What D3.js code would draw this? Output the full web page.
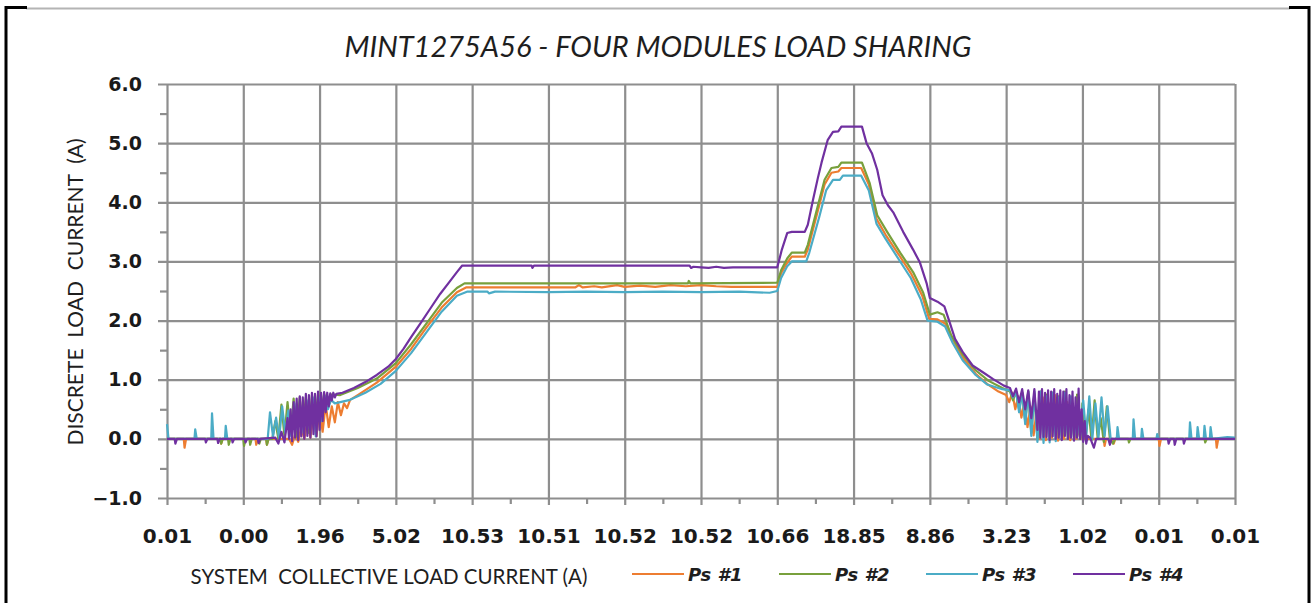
<!DOCTYPE html>
<html>
<head>
<meta charset="utf-8">
<script src="https://cdn.jsdelivr.net/npm/d3@7"></script>
<style>
  html, body { margin: 0; padding: 0; background: #fff; }
  svg { display: block; }
  text { fill: #1e1e1e; }
</style>
</head>
<body>
<div id="chart"></div>
<script>
var chartTitle = 'MINT1275A56 - FOUR MODULES LOAD SHARING';
var xTitle = 'SYSTEM\u00a0 COLLECTIVE LOAD CURRENT (A)';
var yTitle = 'DISCRETE\u00a0 LOAD\u00a0 CURRENT\u00a0 (A)';
var xLabels = ['0.01', '0.00', '1.96', '5.02', '10.53', '10.51', '10.52', '10.52', '10.66', '18.85', '8.86', '3.23', '1.02', '0.01', '0.01'];
var yTicks = [-1, 0, 1, 2, 3, 4, 5, 6];
var seriesNames = ['Ps #1', 'Ps #2', 'Ps #3', 'Ps #4'];
var seriesColors = ['#ED7D31', '#78A03C', '#4BACC6', '#7030A0'];

// points are [position along the x categories, load current]
var ps1 = [[0,0],[0.22,0],[0.23,-0.15],[0.25,0],[0.7,0],[0.71,-0.08],[0.73,0],[1.16,0],[1.17,-0.1],[1.19,0],[1.3,0],[1.31,-0.1],[1.33,0],[1.6,0],
  [1.64,-0.1],[1.68,0.08],[1.72,-0.05],[1.76,0.2],[1.8,0],[1.84,0.3],[1.88,0.02],[1.92,0.42],[1.96,0.05],[2,0.5],[2.04,0.12],[2.08,0.58],[2.12,0.2],
  [2.16,0.55],[2.2,0.28],[2.24,0.62],[2.28,0.4],[2.32,0.6],[2.36,0.52],[2.4,0.66],[2.5,0.74],[2.75,0.95],[3,1.22],[3.2,1.52],[3.4,1.88],[3.6,2.22],
  [3.8,2.48],[3.92,2.56],[5.35,2.56],[5.4,2.6],[5.45,2.56],[5.6,2.58],[5.7,2.56],[5.9,2.6],[6,2.57],[6.2,2.59],[6.4,2.57],[6.6,2.6],[6.8,2.58],[7,2.6],
  [7.2,2.58],[7.4,2.57],[8,2.57],[8.05,2.8],[8.13,2.98],[8.19,3.08],[8.36,3.08],[8.4,3.2],[8.52,3.8],[8.62,4.3],[8.71,4.5],[8.8,4.52],[8.84,4.58],
  [9.1,4.58],[9.2,4.3],[9.3,3.72],[9.42,3.45],[9.6,3.1],[9.76,2.78],[9.9,2.42],[9.99,2.03],[10.1,2.02],[10.2,1.95],[10.3,1.68],[10.43,1.38],[10.6,1.1],
  [10.75,0.93],[10.9,0.8],[11,0.74],[11.04,0.62],[11.08,0.78],[11.12,0.5],[11.16,0.72],[11.2,0.36],[11.24,0.62],[11.28,0.2],[11.32,0.55],[11.36,0.06],
  [11.4,0.48],[11.44,0],[11.48,0.7],[11.52,-0.02],[11.56,0.6],[11.6,0.02],[11.64,0.74],[11.68,-0.03],[11.72,0.5],[11.76,0],[11.8,0.62],[11.84,-0.02],
  [11.88,0.35],[11.92,0],[11.96,0.15],[12,0],[12.28,0],[12.29,-0.12],[12.31,0],[12.4,0],[12.41,-0.08],[12.43,0],[13,0],[13.01,-0.12],[13.03,0],
  [13.75,0],[13.76,-0.15],[13.78,0],[14,0]];

var ps2 = [[0,0],[0.7,0],[0.71,-0.08],[0.73,0],[0.8,0],[0.81,-0.1],[0.83,0],[1,0],[1.01,-0.12],[1.03,0],[1.08,0],[1.09,-0.1],[1.11,0],[1.2,0],
  [1.21,-0.08],[1.23,0],[1.3,0],[1.31,-0.1],[1.33,0],[1.38,0],[1.42,0.3],[1.46,0],[1.5,0.58],[1.54,0.04],[1.58,0.62],[1.62,0.08],[1.66,0.68],
  [1.7,0.04],[1.74,0.7],[1.78,0.18],[1.82,0.7],[1.86,0.1],[1.9,0.74],[1.94,0.3],[1.98,0.75],[2.02,0.45],[2.06,0.76],[2.1,0.6],[2.15,0.75],[2.27,0.74],
  [2.5,0.86],[2.75,1.02],[3,1.28],[3.2,1.6],[3.4,1.95],[3.6,2.3],[3.8,2.55],[3.9,2.63],[6.83,2.63],[6.84,2.67],[6.86,2.63],[8,2.64],[8.05,2.85],
  [8.13,3.05],[8.19,3.15],[8.36,3.15],[8.4,3.28],[8.52,3.88],[8.62,4.38],[8.71,4.58],[8.8,4.6],[8.84,4.67],[9.11,4.67],[9.21,4.33],[9.31,3.78],
  [9.44,3.5],[9.61,3.15],[9.78,2.82],[9.91,2.48],[10,2.1],[10.1,2.14],[10.18,2.1],[10.28,1.75],[10.43,1.43],[10.6,1.16],[10.77,0.98],[10.95,0.86],
  [11.05,0.8],[11.09,0.65],[11.13,0.8],[11.17,0.5],[11.21,0.78],[11.25,0.3],[11.29,0.8],[11.33,0.1],[11.37,0.76],[11.41,0],[11.45,0.8],[11.49,0.02],
  [11.53,0.75],[11.57,0],[11.61,0.78],[11.65,0.05],[11.69,0.72],[11.73,0],[11.77,0.8],[11.81,0],[11.85,0.7],[11.89,0.02],[11.93,0.75],[11.97,0],
  [12,0.6],[12.04,0],[12.08,0.5],[12.12,-0.02],[12.16,0.65],[12.2,0],[12.24,0.35],[12.28,-0.05],[12.32,0.55],[12.36,0],[12.4,-0.08],[12.43,0],
  [12.6,0],[12.61,-0.06],[12.63,0],[13.6,0],[13.61,-0.06],[13.63,0],[14,0]];

var ps3 = [[0,0.25],[0.02,0],[0.36,0],[0.37,0.16],[0.39,0],[0.58,0],[0.59,0.43],[0.61,0],[0.76,0],[0.77,0.22],[0.79,0],[1.32,0],[1.35,0.45],
  [1.39,0.04],[1.43,0.36],[1.47,0],[1.51,0.55],[1.55,0.1],[1.59,0.48],[1.63,0.04],[1.67,0.6],[1.71,0.15],[1.75,0.55],[1.79,0.1],[1.83,0.65],
  [1.87,0.18],[1.91,0.7],[1.95,0.04],[1.99,0.7],[2.03,0.3],[2.07,0.72],[2.11,0.5],[2.15,0.66],[2.2,0.6],[2.3,0.63],[2.4,0.66],[2.6,0.78],[2.8,0.93],
  [3,1.15],[3.2,1.45],[3.4,1.8],[3.6,2.15],[3.8,2.42],[3.94,2.49],[4.2,2.49],[4.22,2.46],[4.3,2.49],[5,2.48],[5.5,2.49],[6,2.48],[6.5,2.49],[7,2.48],
  [7.5,2.49],[7.9,2.47],[8,2.5],[8.05,2.72],[8.13,2.92],[8.19,3],[8.38,3],[8.42,3.15],[8.55,3.75],[8.64,4.2],[8.73,4.38],[8.82,4.38],[8.86,4.45],
  [9.1,4.45],[9.2,4.2],[9.3,3.64],[9.42,3.38],[9.6,3.02],[9.75,2.72],[9.88,2.36],[9.97,2],[10.1,1.98],[10.2,1.9],[10.3,1.62],[10.43,1.33],[10.6,1.08],
  [10.75,0.92],[10.95,0.84],[11.05,0.82],[11.09,0.7],[11.13,0.8],[11.17,0.45],[11.21,0.78],[11.25,0.25],[11.29,0.8],[11.33,0.05],[11.37,0.8],
  [11.41,-0.05],[11.45,0.8],[11.49,-0.07],[11.53,0.72],[11.57,-0.06],[11.61,0.78],[11.65,-0.04],[11.69,0.7],[11.73,0],[11.77,0.78],[11.81,0.02],
  [11.85,0.72],[11.89,0],[11.93,0.5],[11.97,0],[12.01,0.65],[12.05,0.05],[12.09,0.72],[12.13,0],[12.17,0.6],[12.21,0.02],[12.25,0.7],[12.29,0.05],
  [12.33,0.55],[12.37,0],[12.45,0],[12.46,0.2],[12.48,0],[12.66,0],[12.67,0.33],[12.69,0],[12.77,0],[12.78,0.17],[12.8,0],[12.97,0],[12.98,0.08],
  [13,0],[13.4,0],[13.41,0.28],[13.43,0],[13.5,0],[13.51,0.2],[13.53,0],[13.59,0],[13.6,0.22],[13.62,0],[13.67,0],[13.68,0.2],[13.7,0],[13.9,0.03],[14,0.02]];

var ps4 = [[0,0],[0.1,0],[0.11,-0.08],[0.13,0],[0.5,0],[0.51,-0.06],[0.53,0],[0.66,0],[0.67,-0.07],[0.69,0],[0.85,0],[0.86,-0.06],[0.88,0],[1.02,0],
  [1.03,-0.06],[1.05,0],[1.19,0],[1.2,-0.07],[1.22,0],[1.42,0.02],[1.46,-0.08],[1.5,0.12],[1.54,-0.06],[1.58,0.35],[1.6,0],[1.62,0.5],[1.64,-0.04],
  [1.66,0.62],[1.68,0.02],[1.7,0.68],[1.72,-0.02],[1.74,0.72],[1.76,0.04],[1.78,0.7],[1.8,0],[1.82,0.76],[1.84,0.05],[1.86,0.74],[1.88,0.02],
  [1.9,0.78],[1.92,0.08],[1.94,0.76],[1.96,0.04],[1.98,0.8],[2,0.15],[2.02,0.78],[2.04,0.3],[2.06,0.79],[2.08,0.45],[2.1,0.78],[2.12,0.55],
  [2.14,0.77],[2.16,0.65],[2.18,0.78],[2.2,0.7],[2.22,0.76],
  [2.3,0.78],[2.45,0.86],[2.6,0.96],[2.75,1.08],[2.9,1.22],[3,1.35],[3.1,1.52],[3.2,1.72],[3.32,1.95],[3.45,2.2],[3.58,2.45],[3.7,2.65],[3.8,2.82],
  [3.87,2.93],[4.78,2.93],[4.79,2.89],[4.81,2.93],[6.85,2.93],[6.87,2.89],[6.9,2.91],[7,2.9],[7.1,2.89],[7.2,2.91],[7.3,2.89],[7.42,2.9],[8,2.9],
  [8.06,3.2],[8.13,3.48],[8.19,3.5],[8.36,3.5],[8.4,3.62],[8.47,4.05],[8.53,4.4],[8.58,4.67],[8.66,5.05],[8.73,5.19],[8.8,5.2],[8.84,5.28],[9.11,5.28],
  [9.17,5],[9.24,4.83],[9.31,4.55],[9.38,4.12],[9.45,3.95],[9.52,3.83],[9.65,3.5],[9.78,3.2],[9.87,2.98],[9.96,2.62],[10,2.38],[10.1,2.32],[10.19,2.24],
  [10.26,1.97],[10.33,1.69],[10.43,1.47],[10.56,1.24],[10.69,1.13],[10.83,1.01],[10.97,0.9],[11.05,0.86],[11.09,0.72],[11.13,0.85],[11.17,0.62],
  [11.21,0.84],[11.25,0.5],[11.29,0.82],[11.33,0.35],[11.37,0.84],[11.41,0.15],[11.43,0.8],[11.45,0.02],[11.47,0.84],[11.49,0.03],[11.51,0.78],
  [11.53,0.03],[11.55,0.82],[11.57,-0.02],[11.59,0.8],[11.61,0.04],[11.63,0.84],[11.65,0],[11.67,0.76],[11.69,0.02],[11.71,0.82],[11.73,-0.02],
  [11.75,0.8],[11.77,0.05],[11.79,0.84],[11.81,0],[11.83,0.74],[11.85,0.02],[11.87,0.8],[11.89,-0.03],[11.91,0.7],[11.93,0.02],[11.95,0.85],
  [11.97,0],[11.99,0.5],[12.01,-0.05],[12.03,0.3],[12.05,-0.08],[12.07,0.05],[12.1,0.02],[12.15,-0.15],[12.18,0],[12.34,0],[12.36,-0.1],[12.38,0],
  [13.12,0],[13.13,-0.08],[13.15,0],[13.2,0],[13.21,-0.1],[13.23,0],[13.32,0],[13.33,-0.08],[13.35,0],[14,0]];

var allSeries = [ps1, ps2, ps3, ps4];

var svgWidth = 1316,
    svgHeight = 603,
    margin = { top: 84, right: 81, bottom: 105, left: 167 },
    width = svgWidth - margin.left - margin.right,
    height = svgHeight - margin.top - margin.bottom;

var textFont = 'Lato, "Open Sans", sans-serif',
    tickFont = '"DejaVu Sans", Verdana, sans-serif';

var svg = d3.select('#chart').append('svg')
    .attr('width', svgWidth)
    .attr('height', svgHeight);

// outer frame
svg.append('line').attr('x1', 26).attr('x2', 1290).attr('y1', 8.5).attr('y2', 8.5)
    .attr('stroke', '#b4b4b4').attr('stroke-width', 2);
svg.append('path')
    .attr('d', 'M6,603V7.5H27 M1289,7.5H1309V603')
    .attr('fill', 'none').attr('stroke', '#000').attr('stroke-width', 3);

var g = svg.append('g')
    .attr('transform', 'translate(' + margin.left + ',' + margin.top + ')');

var x = d3.scaleLinear().domain([0, xLabels.length - 1]).range([0, width]);
var y = d3.scaleLinear().domain([-1, 6]).range([height, 0]);

var gridColor = '#8e8e8e',
    gridWidth = 2.2;

function styleGrid(s) {
    s.select('.domain').remove();
    s.selectAll('line').attr('stroke', gridColor).attr('stroke-width', gridWidth);
}

// horizontal gridlines, running out to the left as the major ticks
g.append('g')
    .attr('class', 'y grid')
    .attr('transform', 'translate(-9,0)')
    .call(d3.axisRight(y).tickValues(yTicks).tickSize(width + 9).tickFormat(''))
    .call(styleGrid);

// vertical gridlines, running down as the major ticks
g.append('g')
    .attr('class', 'x grid')
    .call(d3.axisBottom(x).tickValues(d3.range(xLabels.length)).tickSize(height + 7).tickFormat(''))
    .call(styleGrid);

// minor ticks
g.append('g')
    .attr('transform', 'translate(0,' + height + ')')
    .call(d3.axisBottom(x).tickValues(d3.range(0.5, xLabels.length - 1, 1)).tickSize(6).tickFormat(''))
    .call(styleGrid);
g.append('g')
    .call(d3.axisLeft(y).tickValues(d3.range(-0.5, 6, 1)).tickSize(7).tickFormat(''))
    .call(styleGrid);

// tick labels
function styleLabels(size) {
    return function (s) {
        s.select('.domain').remove();
        s.selectAll('text')
            .style('font-family', tickFont)
            .style('font-size', size + 'px')
            .style('font-weight', 'bold')
            .style('fill', '#1a1a1a');
    };
}
g.append('g')
    .attr('transform', 'translate(0,' + height + ')')
    .call(d3.axisBottom(x).tickValues(d3.range(xLabels.length)).tickSize(0).tickPadding(31)
        .tickFormat(function (d) { return xLabels[d]; }))
    .call(styleLabels(20));
g.append('g')
    .call(d3.axisLeft(y).tickValues(yTicks).tickSize(0).tickPadding(25)
        .tickFormat(d3.format('.1f')))
    .call(styleLabels(19));

// series
var line = d3.line()
    .x(function (d) { return x(d[0]); })
    .y(function (d) { return y(d[1]); });

g.selectAll('.series')
    .data(allSeries)
    .enter().append('path')
    .attr('class', 'series')
    .attr('d', line)
    .attr('fill', 'none')
    .attr('stroke', function (d, i) { return seriesColors[i]; })
    .attr('stroke-width', 2.2)
    .attr('stroke-linejoin', 'round');

// titles
svg.append('text')
    .attr('x', 658).attr('y', 57)
    .attr('text-anchor', 'middle')
    .style('font-family', textFont)
    .style('font-size', '29px').style('font-style', 'italic')
    .text(chartTitle);

svg.append('text')
    .attr('transform', 'translate(83,292) rotate(-90)')
    .attr('text-anchor', 'middle')
    .style('font-family', textFont)
    .style('font-size', '21px')
    .text(yTitle);

svg.append('text')
    .attr('x', 389).attr('y', 584)
    .attr('text-anchor', 'middle')
    .style('font-family', textFont)
    .style('font-size', '20.5px')
    .text(xTitle);

// legend
var legend = svg.append('g').attr('transform', 'translate(632,574)');
seriesNames.forEach(function (name, i) {
    var item = legend.append('g').attr('transform', 'translate(' + (i * 147) + ',0)');
    item.append('line').attr('x1', 0).attr('x2', 52)
        .attr('stroke', seriesColors[i]).attr('stroke-width', 2.2);
    item.append('text').attr('x', 56).attr('y', 7)
        .style('font-family', tickFont)
        .style('font-size', '18px').style('font-weight', 'bold').style('font-style', 'italic')
        .text(name);
});
</script>
</body>
</html>
